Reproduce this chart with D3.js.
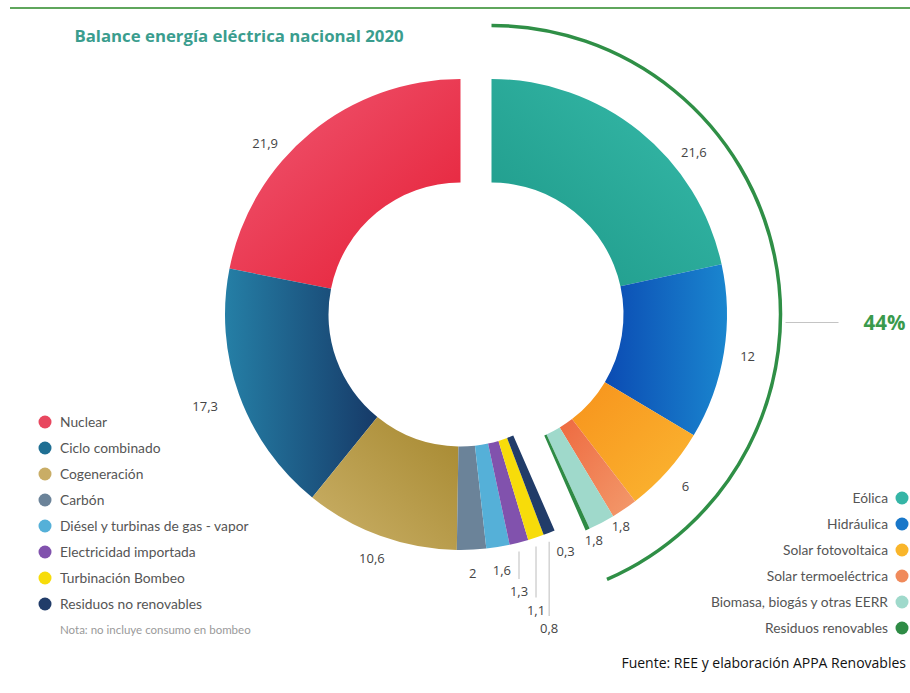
<!DOCTYPE html>
<html>
<head>
<meta charset="utf-8">
<script src="https://cdn.jsdelivr.net/npm/d3@7"></script>
<style>
  body { margin: 0; background: #fff; }
  text { font-family: "Open Sans", "Noto Sans", sans-serif; }
</style>
</head>
<body>
<div id="chart"></div>
<script>
// non renewable group (left, drawn counter-clockwise from the top)
const noRenovNames = ['Nuclear', 'Ciclo combinado', 'Cogeneración', 'Carbón',
  'Diésel y turbinas de gas - vapor', 'Electricidad importada', 'Turbinación Bombeo', 'Residuos no renovables'];
const noRenovValues = [21.9, 17.3, 10.6, 2, 1.6, 1.3, 1.1, 0.8];
const noRenovColors = ['#e8475f', '#1f6f93', '#c9ad66', '#6b8399', '#55b0d8', '#8152ad', '#f7dc0a', '#213c69'];

// renewable group (right, clockwise from the top)
const renovNames = ['Eólica', 'Hidráulica', 'Solar fotovoltaica', 'Solar termoeléctrica',
  'Biomasa, biogás y otras EERR', 'Residuos renovables'];
const renovValues = [21.6, 12, 6, 1.8, 1.8, 0.3];
const renovColors = ['#35b5a6', '#1877c9', '#f9b52a', '#f08a5b', '#9fd9cb', '#2e8b45'];

const renovShare = '44%';
const title = 'Balance energía eléctrica nacional 2020';
const note = 'Nota: no incluye consumo en bombeo';
const source = 'Fuente: REE y elaboración APPA Renovables';

// gradients [from, to, x1, y1, x2, y2] for the large slices
const gradients = {
  'Nuclear': ['#f05a74', '#e51c33', 0, 0, 1, 1],
  'Ciclo combinado': ['#257fa6', '#163a68', 0, 0, 1, 0],
  'Cogeneración': ['#cbb169', '#a6882f', 0, 1, 1, 0],
  'Eólica': ['#38bcab', '#1c9787', 1, 0, 0, 1],
  'Hidráulica': ['#0b4bb3', '#1a86cf', 0, 0, 1, 0],
  'Solar fotovoltaica': ['#f7931c', '#fbb732', 0, 0, 1, 1],
  'Solar termoeléctrica': ['#ee6a40', '#f39a6c', 0, 0, 1, 1]
};

const width = 910;
const height = 693;
const cy = 314.5;
const gap = 15.5;
const cx = 476;
const outerR = 235.5;
const innerR = 132;

const total = d3.sum(noRenovValues) + d3.sum(renovValues);
const angle = d3.scaleLinear().domain([0, total]).range([0, 2 * Math.PI]);

const svg = d3.select('#chart').append('svg')
  .attr('width', width)
  .attr('height', height)
  .attr('viewBox', [0, 0, width, height]);

svg.append('rect').attr('width', width).attr('height', height).attr('fill', '#fff');

const defs = svg.append('defs');
Object.entries(gradients).forEach(([name, g], i) => {
  const lg = defs.append('linearGradient')
    .attr('id', 'grad' + i)
    .attr('x1', g[2]).attr('y1', g[3]).attr('x2', g[4]).attr('y2', g[5]);
  lg.append('stop').attr('offset', 0).attr('stop-color', g[0]);
  lg.append('stop').attr('offset', 1).attr('stop-color', g[1]);
});
function fillFor(name, color) {
  const i = Object.keys(gradients).indexOf(name);
  return i >= 0 ? `url(#grad${i})` : color;
}

// top rule
svg.append('line')
  .attr('x1', 10).attr('x2', width).attr('y1', 8).attr('y2', 8)
  .attr('stroke', '#5fa65c').attr('stroke-width', 2);

svg.append('text')
  .attr('x', 239).attr('y', 42)
  .attr('text-anchor', 'middle')
  .attr('font-size', 16.8).attr('font-weight', 700)
  .attr('fill', '#3a9d8e')
  .text(title);

const arc = d3.arc().innerRadius(innerR).outerRadius(outerR);
const fmt = v => String(v).replace('.', ',');

function group(names, values, colors, dir, gx) {
  const data = names.map((n, i) => ({ name: n, value: values[i], color: colors[i] }));
  const pie = d3.pie().sort(null).value(d => d.value)
    .startAngle(0).endAngle(dir * angle(d3.sum(values)));
  const arcs = pie(data);
  const g = svg.append('g').attr('transform', `translate(${gx},${cy})`);
  g.selectAll('path')
    .data(arcs)
    .join('path')
      .attr('d', arc)
      .attr('fill', d => fillFor(d.data.name, d.data.color));
  return { arcs, g };
}

const left = group(noRenovNames, noRenovValues, noRenovColors, -1, cx - gap);
const right = group(renovNames, renovValues, renovColors, 1, cx + gap);

function polar(a, r) { return [r * Math.sin(a), -r * Math.cos(a)]; }

// value labels, left group
const labelStyle = sel => sel.attr('font-size', 13).attr('fill', '#444').attr('text-anchor', 'middle');
let stack = 0;
left.arcs.forEach(d => {
  const a0 = d.startAngle, a1 = d.endAngle;
  if (d.value >= 1.5) {
    const f = d.value > 20 ? 0.62 : 0.5;
    const r = d.value > 15 && d.value < 20 ? outerR + 36 : outerR + 24;
    const [x, y] = polar(a0 + f * (a1 - a0), r);
    left.g.append('text').call(labelStyle)
      .attr('x', x).attr('y', y).attr('dy', '0.35em').text(fmt(d.value));
  } else {
    const [x, y] = polar((a0 + a1) / 2, outerR);
    const ty = outerR + 46 + stack * 18.5;
    left.g.append('line')
      .attr('x1', x).attr('x2', x).attr('y1', y + 9).attr('y2', ty - 17)
      .attr('stroke', '#c8c8c8').attr('stroke-width', 1.2);
    left.g.append('text').call(labelStyle)
      .attr('x', x).attr('y', ty).text(fmt(d.value));
    stack++;
  }
});

// value labels, right group
let prev = -Infinity;
right.arcs.forEach(d => {
  const a0 = d.startAngle, a1 = d.endAngle;
  let a, r;
  if (d.value >= 2) {
    a = a0 + (d.value > 20 ? 0.66 : 0.5) * (a1 - a0);
    r = outerR + 24;
  } else {
    a = Math.max((a0 + a1) / 2 + 3 * Math.PI / 180, prev + 7 * Math.PI / 180);
    r = outerR + 13;
    prev = a;
  }
  const [x, y] = polar(a, r);
  right.g.append('text').call(labelStyle)
    .attr('x', x).attr('y', y).attr('dy', '0.35em').text(fmt(d.value));
});

// bracket arc round the renewables
const bracketR = 289;
const bracket = d3.arc().innerRadius(bracketR).outerRadius(bracketR)
  .startAngle(0).endAngle(angle(d3.sum(renovValues)));
right.g.append('path')
  .attr('d', bracket())
  .attr('fill', 'none')
  .attr('stroke', '#2f8f46').attr('stroke-width', 3.5).attr('stroke-linecap', 'round');

right.g.append('line')
  .attr('x1', bracketR + 5).attr('x2', bracketR + 58).attr('y1', 8).attr('y2', 8)
  .attr('stroke', '#c4c4c4').attr('stroke-width', 1.2);
right.g.append('text')
  .attr('x', bracketR + 83).attr('y', 8).attr('dy', '0.36em')
  .attr('font-size', 20.5).attr('font-weight', 700).attr('fill', '#3a9a4c')
  .text(renovShare);

// legends
const legendFont = '"Lato", "Noto Sans", sans-serif';
const legL = svg.append('g').selectAll('g')
  .data(noRenovNames)
  .join('g')
    .attr('transform', (d, i) => `translate(45,${422 + i * 26})`);
legL.append('circle').attr('r', 6.5).attr('fill', (d, i) => noRenovColors[i]);
legL.append('text').attr('x', 15).attr('dy', '0.35em')
  .attr('font-size', 13.8).attr('fill', '#555').style('font-family', legendFont)
  .text(d => d);

svg.append('text')
  .attr('x', 60).attr('y', 634)
  .attr('font-size', 11.5).attr('fill', '#9a9a9a').style('font-family', legendFont)
  .text(note);

const legR = svg.append('g').selectAll('g')
  .data(renovNames)
  .join('g')
    .attr('transform', (d, i) => `translate(902,${498 + i * 26})`);
legR.append('circle').attr('r', 6.5).attr('fill', (d, i) => renovColors[i]);
legR.append('text').attr('x', -14).attr('dy', '0.35em').attr('text-anchor', 'end')
  .attr('font-size', 13.8).attr('fill', '#555').style('font-family', legendFont)
  .text(d => d);

svg.append('text')
  .attr('x', 906).attr('y', 668).attr('text-anchor', 'end')
  .attr('font-size', 14).attr('fill', '#111')
  .text(source);
</script>
</body>
</html>
